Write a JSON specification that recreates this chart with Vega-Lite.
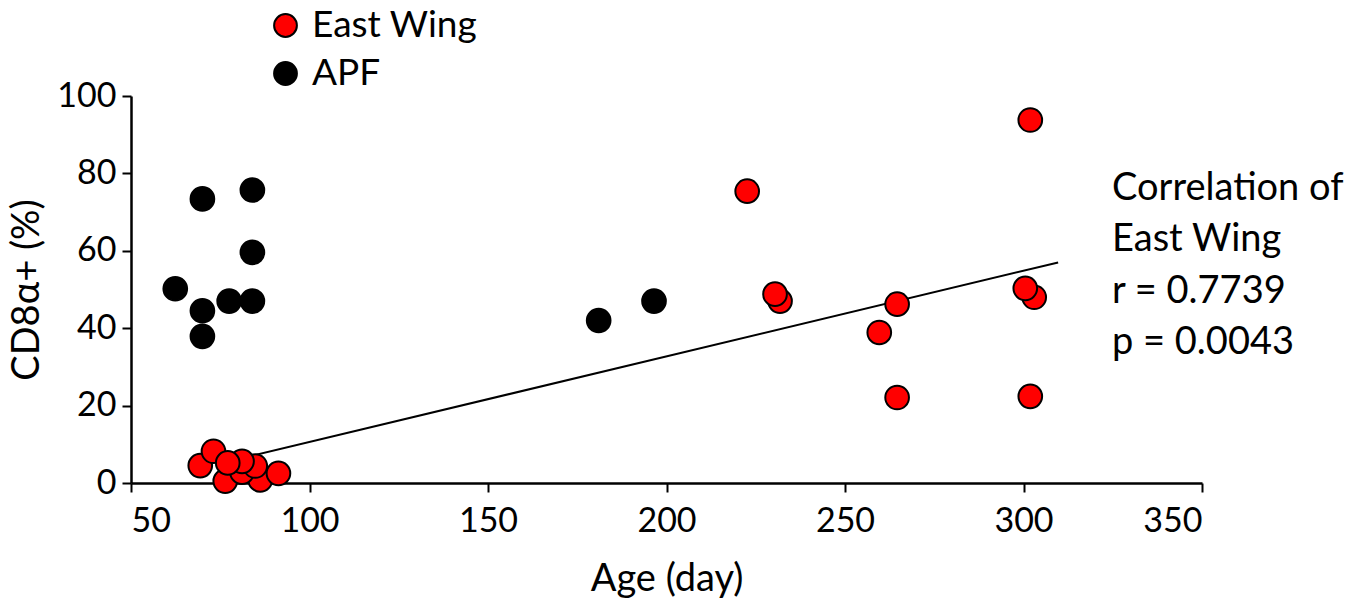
{
  "$schema": "https://vega.github.io/schema/vega-lite/v6.json",
  "width": 1071,
  "height": 387,
  "autosize": "none",
  "padding": {"left": 131, "top": 96, "right": 167, "bottom": 125},
  "background": "white",
  "config": {
    "view": {"stroke": null},
    "font": "Lato",
    "axis": {
      "grid": false,
      "domainColor": "black",
      "domainWidth": 2.5,
      "tickColor": "black",
      "tickWidth": 2,
      "tickSize": 9,
      "labelFont": "Lato",
      "labelFontSize": 34,
      "labelColor": "black",
      "titleFont": "Lato",
      "titleFontSize": 38,
      "titleFontWeight": "normal",
      "titleColor": "black"
    }
  },
  "datasets": {
    "pts": [
      {"group": "APF", "age": 70, "cd8": 73.4},
      {"group": "APF", "age": 84, "cd8": 75.7},
      {"group": "APF", "age": 84, "cd8": 59.6},
      {"group": "APF", "age": 62.4, "cd8": 50.2},
      {"group": "APF", "age": 70, "cd8": 44.5},
      {"group": "APF", "age": 77.5, "cd8": 47.0},
      {"group": "APF", "age": 84, "cd8": 47.0},
      {"group": "APF", "age": 70, "cd8": 37.9},
      {"group": "APF", "age": 181, "cd8": 42.0},
      {"group": "APF", "age": 196.5, "cd8": 47.0},
      {"group": "East Wing", "age": 301.9, "cd8": 93.8},
      {"group": "East Wing", "age": 222.6, "cd8": 75.4},
      {"group": "East Wing", "age": 231.8, "cd8": 47.0},
      {"group": "East Wing", "age": 230.4, "cd8": 48.8},
      {"group": "East Wing", "age": 264.6, "cd8": 46.2},
      {"group": "East Wing", "age": 259.6, "cd8": 38.9},
      {"group": "East Wing", "age": 264.6, "cd8": 22.1},
      {"group": "East Wing", "age": 301.9, "cd8": 22.4},
      {"group": "East Wing", "age": 303.0, "cd8": 48.0},
      {"group": "East Wing", "age": 300.5, "cd8": 50.3},
      {"group": "East Wing", "age": 69.4, "cd8": 4.5},
      {"group": "East Wing", "age": 76.4, "cd8": 0.5},
      {"group": "East Wing", "age": 86.2, "cd8": 0.8},
      {"group": "East Wing", "age": 91.3, "cd8": 2.5},
      {"group": "East Wing", "age": 81.1, "cd8": 2.8},
      {"group": "East Wing", "age": 84.8, "cd8": 4.4},
      {"group": "East Wing", "age": 81.1, "cd8": 5.6},
      {"group": "East Wing", "age": 73.1, "cd8": 8.2},
      {"group": "East Wing", "age": 77.1, "cd8": 5.2}
    ],
    "fit": [
      {"x": 84.2, "y": 7.1, "x2": 309.7, "y2": 57.0}
    ],
    "notes": [
      {"label": "Correlation of", "age": 324.8, "cd8": 75.9},
      {"label": "East Wing", "age": 324.8, "cd8": 62.7},
      {"label": "r = 0.7739", "age": 324.8, "cd8": 49.3},
      {"label": "p = 0.0043", "age": 324.8, "cd8": 36.1}
    ]
  },
  "layer": [
    {
      "data": {"name": "fit"},
      "mark": {"type": "rule", "color": "black", "strokeWidth": 2},
      "encoding": {
        "x": {"field": "x", "type": "quantitative", "scale": {"domain": [50, 350]}},
        "y": {"field": "y", "type": "quantitative", "scale": {"domain": [0, 100]}},
        "x2": {"field": "x2"},
        "y2": {"field": "y2"}
      }
    },
    {
      "data": {"name": "pts"},
      "mark": {"type": "point", "filled": true, "shape": "circle", "size": 560, "opacity": 1},
      "encoding": {
        "x": {
          "field": "age", "type": "quantitative", "title": "Age (day)",
          "scale": {"domain": [50, 350], "nice": false, "zero": false},
          "axis": {"values": [50, 100, 150, 200, 250, 300, 350], "labelPadding": 12, "titlePadding": 22}
        },
        "y": {
          "field": "cd8", "type": "quantitative", "title": "CD8α+ (%)",
          "scale": {"domain": [0, 100], "nice": false},
          "axis": {"values": [0, 20, 40, 60, 80, 100], "labelPadding": 6, "titlePadding": 10}
        },
        "color": {
          "field": "group", "type": "nominal",
          "scale": {"domain": ["East Wing", "APF"], "range": ["#ff0000", "#000000"]},
          "legend": {
            "title": null,
            "orient": "none",
            "legendX": 136,
            "legendY": -89,
            "padding": 0,
            "labelFont": "Lato",
            "labelFontSize": 37,
            "labelColor": "black",
            "labelLimit": 400,
            "symbolType": "circle",
            "symbolSize": 520,
            "symbolStrokeColor": "black",
            "symbolStrokeWidth": 2,
            "symbolOpacity": 1,
            "labelOffset": 8,
            "rowPadding": 10
          }
        },
        "stroke": {"value": "black"},
        "strokeWidth": {"value": 2},
        "order": {"field": "group", "type": "nominal"}
      }
    },
    {
      "data": {"name": "notes"},
      "mark": {"type": "text", "align": "left", "baseline": "middle", "font": "Lato", "fontSize": 38, "color": "black"},
      "encoding": {
        "x": {"field": "age", "type": "quantitative"},
        "y": {"field": "cd8", "type": "quantitative"},
        "text": {"field": "label"}
      }
    }
  ]
}
